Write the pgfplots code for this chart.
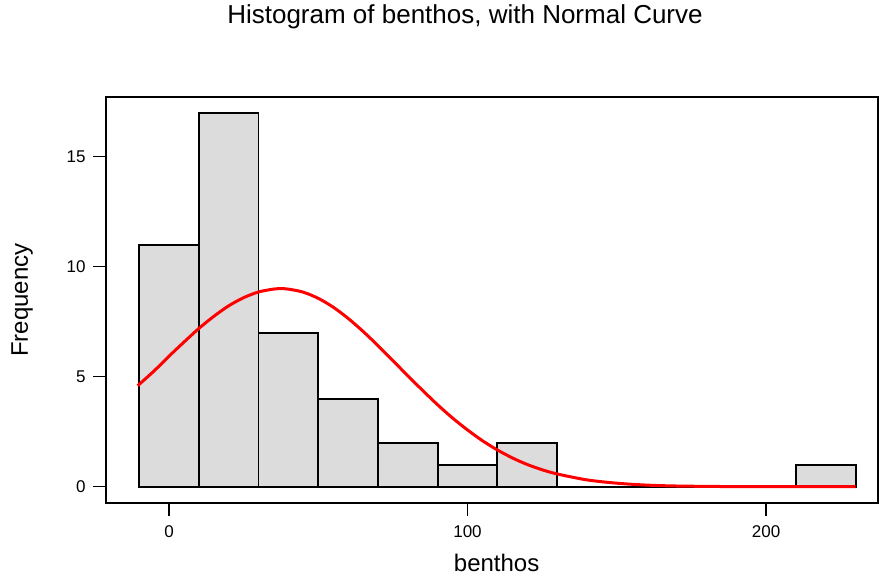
\documentclass[border=0pt]{standalone}
\usepackage{pgfplots}
\pgfplotsset{compat=1.18}
\usepackage{fontspec}
\setmainfont{Liberation Sans}
\definecolor{barfill}{HTML}{DCDCDC}
\begin{document}
\begin{tikzpicture}
\path[use as bounding box] (0,0) rectangle (879pt,575pt);
\begin{axis}[
  at={(106pt,72pt)}, anchor=south west,
  width=772pt, height=406pt, scale only axis,
  xmin=-21.1, xmax=237.5, ymin=-0.74, ymax=17.71,
  xtick={0,100,200}, ytick={0,5,10,15},
  xtick pos=bottom, ytick pos=left,
  tick align=outside, major tick length=13pt,
  tick style={black, line width=1.4pt},
  axis line style={black, line width=1.6pt},
  /pgf/number format/assume math mode=true,
  ticklabel style={font=\fontsize{17}{20}\selectfont},
  xticklabel style={yshift=-6pt},
  yticklabel style={xshift=-4pt},
  title={Histogram of benthos, with Normal Curve},
  title style={at={(rel axis cs:0.465,1.182)}, anchor=center, font=\fontsize{26}{30}\selectfont},
  xlabel={benthos},
  xlabel style={at={(rel axis cs:0.506,-0.1478)}, anchor=center, font=\fontsize{24}{28}\selectfont},
  ylabel={Frequency},
  ylabel style={at={(rel axis cs:-0.1088,0.5)}, anchor=center, font=\fontsize{24}{28}\selectfont},
  clip=false,
]
\addplot[ybar interval, fill=barfill, draw=black, line width=1.8pt] coordinates {
  (-10,11) (10,17) (30,7) (50,4) (70,2) (90,1) (110,2) (130,0) (150,0) (170,0) (190,0) (210,1) (230,1)
};
\addplot[red, line width=3pt, smooth] coordinates {
  (-10.5,4.59) (-5,5.26) (0,5.93) (5,6.57) (10,7.19) (15,7.74) (20,8.22) (25,8.59) (30,8.85) (35,8.98) (37.5,9.0)
  (40,8.98) (45,8.84) (50,8.56) (55,8.16) (60,7.65) (65,7.06) (70,6.41) (75,5.73) (80,5.04) (85,4.37) (90,3.72)
  (95,3.12) (100,2.58) (105,2.09) (110,1.67) (115,1.31) (120,1.01) (125,0.77) (130,0.58) (140,0.31) (150,0.16)
  (160,0.073) (170,0.032) (185,0.009) (200,0.002) (230,0)
};
\end{axis}
\end{tikzpicture}
\end{document}
